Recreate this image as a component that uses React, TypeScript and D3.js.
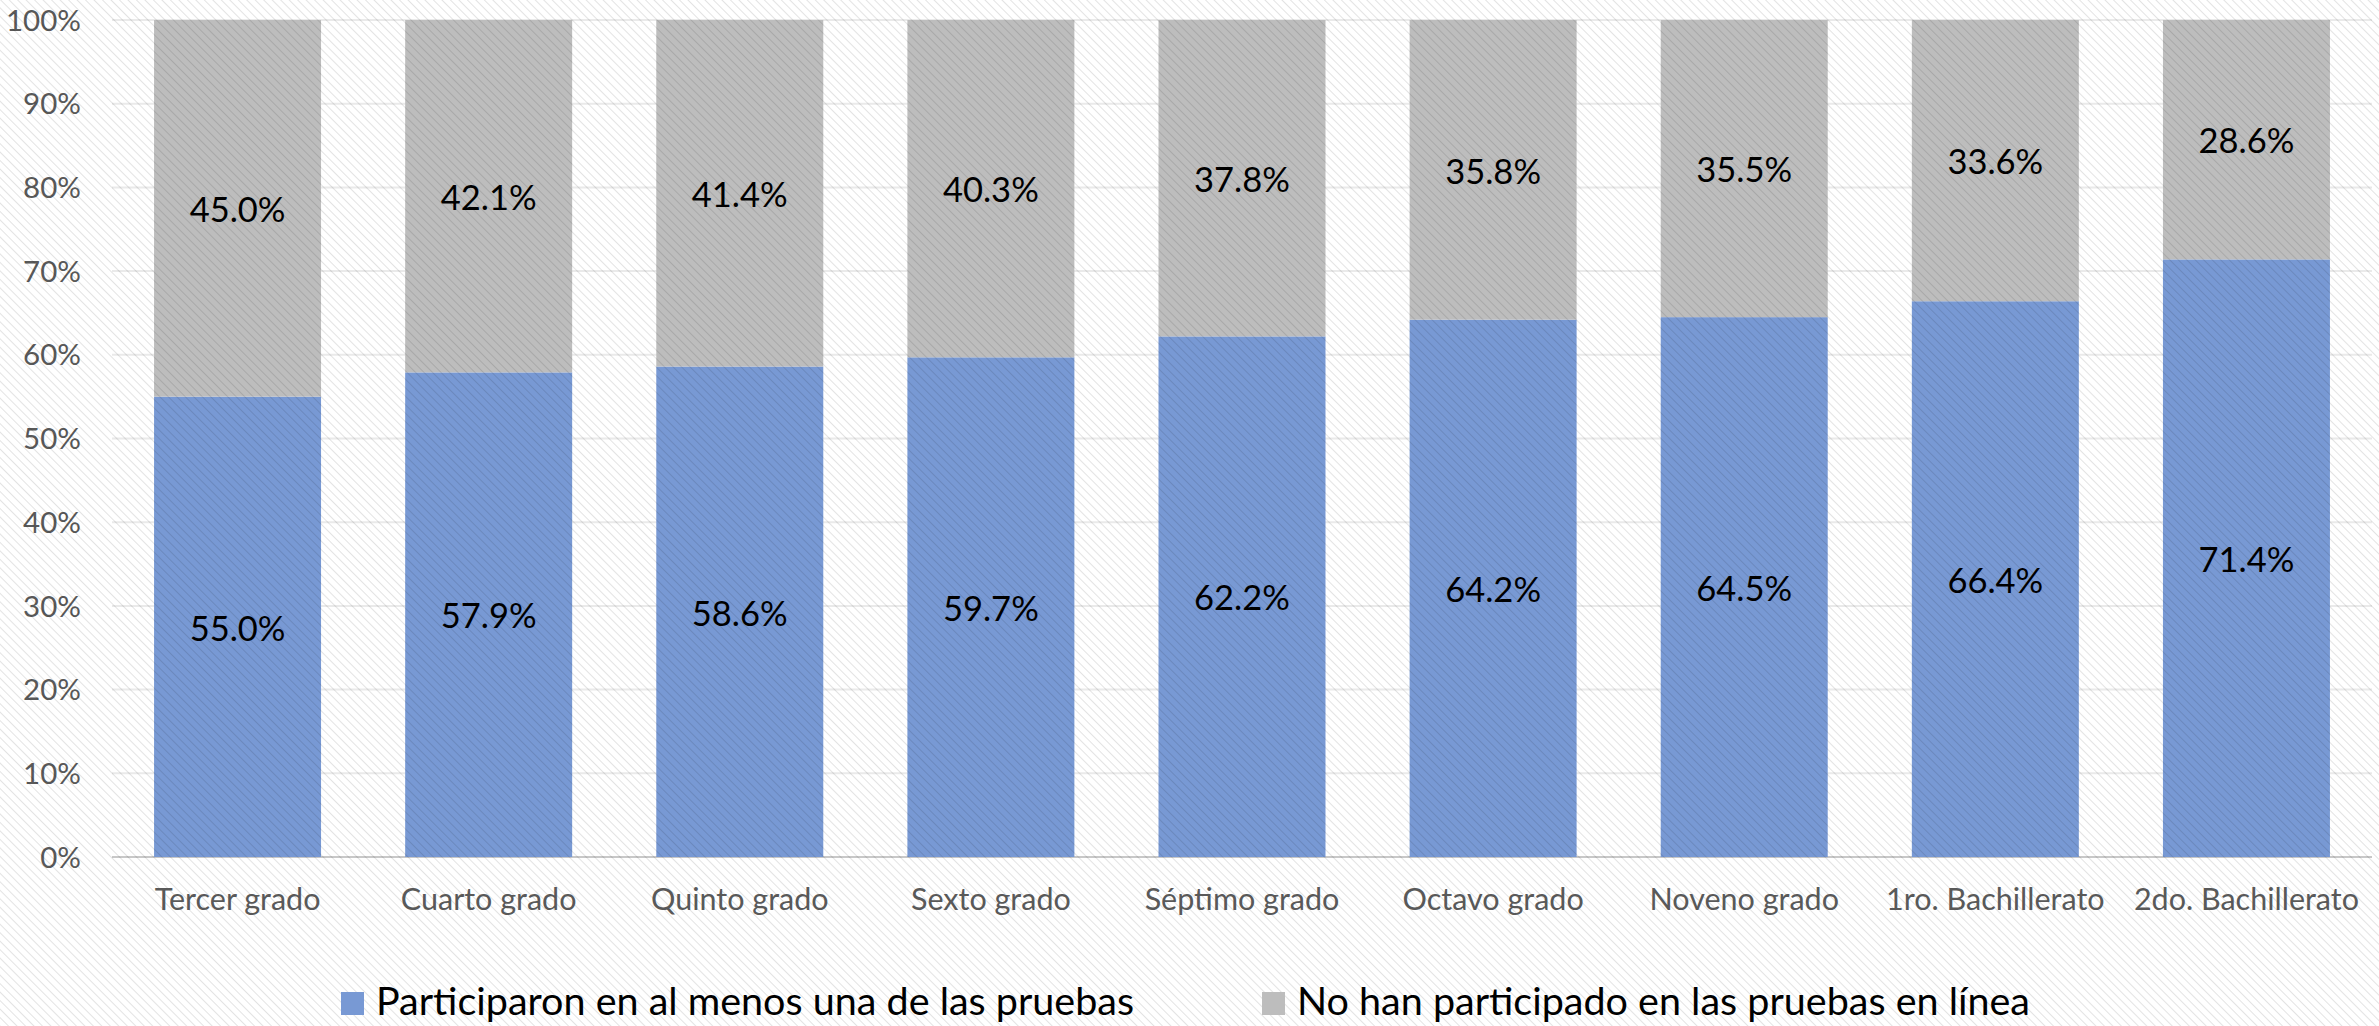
import React from "react";
import * as d3 from "d3";

const categories = ["Tercer grado", "Cuarto grado", "Quinto grado", "Sexto grado", "Séptimo grado", "Octavo grado", "Noveno grado", "1ro. Bachillerato", "2do. Bachillerato"];
const participaron = [55.0, 57.9, 58.6, 59.7, 62.2, 64.2, 64.5, 66.4, 71.4];
const noParticipado = [45.0, 42.1, 41.4, 40.3, 37.8, 35.8, 35.5, 33.6, 28.6];
const seriesNames = ["Participaron en al menos una de las pruebas", "No han participado en las pruebas en línea"];
const seriesColors = ["#7899d4", "#bdbdbd"];
const yTicks = [0, 10, 20, 30, 40, 50, 60, 70, 80, 90, 100];

const W = 2379, H = 1026;
const plot = { left: 112, right: 2372, top: 20, bottom: 857 };
const FONT = "Lato, 'Open Sans', sans-serif";

export default function App() {
  const x = d3.scaleBand<string>().domain(categories).range([plot.left, plot.right]).paddingInner(0.335).paddingOuter(0.1675);
  const y = d3.scaleLinear().domain([0, 100]).range([plot.bottom, plot.top]);
  const stacked = d3.stack<any>().keys(["a", "b"])(categories.map((c, i) => ({ c, a: participaron[i], b: noParticipado[i] })));
  const legendItems = [
    { sx: 341, tx: 376, name: seriesNames[0], color: seriesColors[0] },
    { sx: 1262, tx: 1297, name: seriesNames[1], color: seriesColors[1] },
  ];
  return (
    <svg width={W} height={H} style={{ position: "absolute", left: 0, top: 0 }}>
      <defs>
        <pattern id="hatch" width="6" height="6" patternUnits="userSpaceOnUse" patternTransform="rotate(-45)">
          <rect width="6" height="6" fill="none" />
          <line x1="0" y1="0" x2="0" y2="6" stroke="#000" strokeOpacity="0.11" strokeWidth="2" />
        </pattern>
      </defs>
      <rect width={W} height={H} fill="#fff" />
      {yTicks.map(t => (
        <g key={t}>
          <line x1={plot.left} x2={plot.right} y1={y(t)} y2={y(t)} stroke={t === 0 ? "#c8c8c8" : "#eaeaea"} strokeWidth={2} />
          <text x={81} y={y(t)} dy="0.36em" textAnchor="end" fontFamily={FONT} fontSize={29.5} fill="#595959">{t}%</text>
        </g>
      ))}
      {stacked.map((s, si) => (
        <g key={si}>
          {s.map((d, i) => (
            <rect key={i} x={x(categories[i])} width={x.bandwidth()} y={y(d[1])} height={y(d[0]) - y(d[1])} fill={seriesColors[si]} />
          ))}
        </g>
      ))}
      <rect width={W} height={H} fill="url(#hatch)" />
      {stacked.map((s, si) => (
        <g key={"l" + si}>
          {s.map((d, i) => (
            <text key={i} x={(x(categories[i]) || 0) + x.bandwidth() / 2} y={y((d[0] + d[1]) / 2)} dy="0.4em" textAnchor="middle" fontFamily={FONT} fontSize={34.5} fill="#000">
              {(si === 0 ? participaron[i] : noParticipado[i]).toFixed(1)}%
            </text>
          ))}
        </g>
      ))}
      {categories.map(c => (
        <text key={c} x={(x(c) || 0) + x.bandwidth() / 2} y={899} dy="0.36em" textAnchor="middle" fontFamily={FONT} fontSize={30.5} fill="#595959">{c}</text>
      ))}
      {legendItems.map((l, i) => (
        <g key={i}>
          <rect x={l.sx} y={992} width={23} height={23} fill={l.color} />
          <text x={l.tx} y={1001} dy="0.36em" fontFamily={FONT} fontSize={39.5} fill="#000">{l.name}</text>
        </g>
      ))}
    </svg>
  );
}
